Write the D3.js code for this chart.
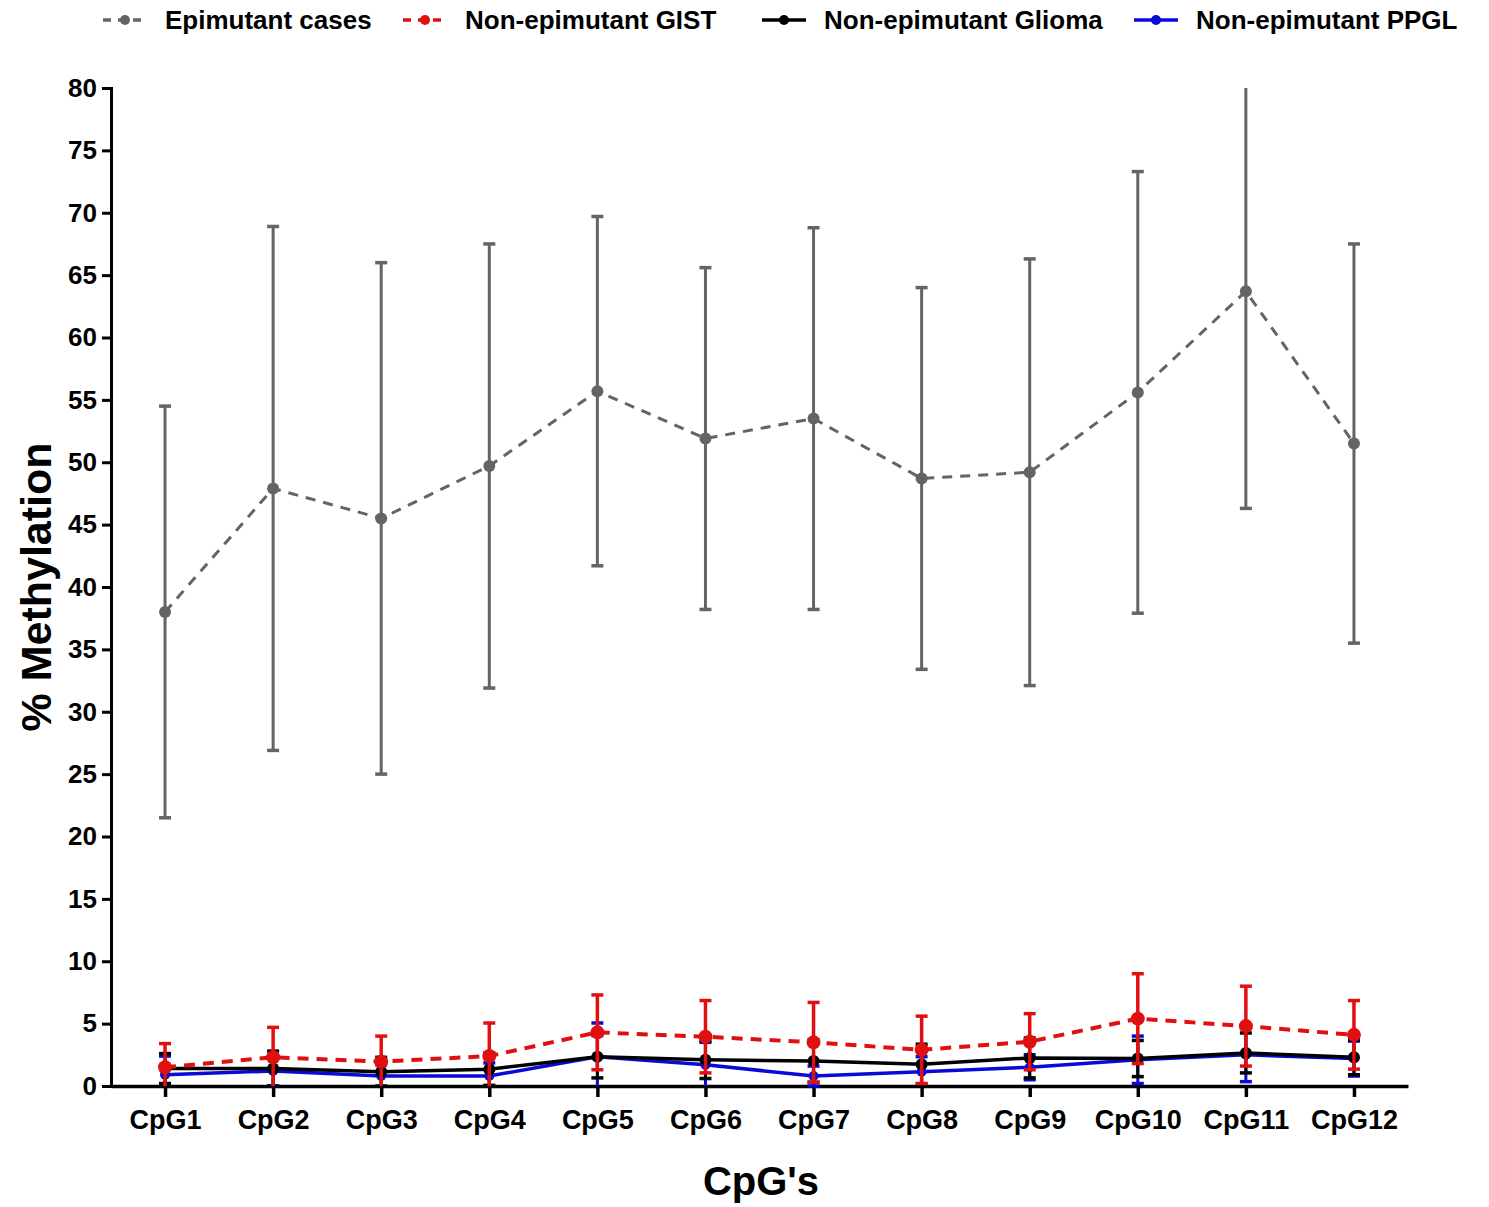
<!DOCTYPE html>
<html>
<head>
<meta charset="utf-8">
<script src="https://cdn.jsdelivr.net/npm/d3@7"></script>
<style>
  body { margin: 0; background: #fff; }
  text { font-family: "Liberation Sans", Arial, sans-serif; font-weight: bold; }
</style>
</head>
<body>
<svg id="chart" width="1489" height="1207"></svg>
<script>
// data (mean and SD, % methylation)
const cpgs = ["CpG1", "CpG2", "CpG3", "CpG4", "CpG5", "CpG6", "CpG7", "CpG8", "CpG9", "CpG10", "CpG11", "CpG12"];
const yTicks = [0, 5, 10, 15, 20, 25, 30, 35, 40, 45, 50, 55, 60, 65, 70, 75, 80];

const epiMean = [38.0, 47.9, 45.5, 49.7, 55.7, 51.9, 53.5, 48.7, 49.2, 55.6, 63.7, 51.5];
const epiSd   = [16.5, 21.0, 20.5, 17.8, 14.0, 13.7, 15.3, 15.3, 17.1, 17.7, 17.4, 16.0];

const gistMean = [1.5, 2.3, 1.95, 2.4, 4.3, 3.95, 3.5, 2.9, 3.55, 5.4, 4.8, 4.1];
const gistSd   = [1.9, 2.4, 2.05, 2.65, 3.0, 2.9, 3.2, 2.7, 2.25, 3.6, 3.2, 2.75];

const gliomaMean = [1.4, 1.4, 1.15, 1.35, 2.35, 2.1, 2.0, 1.75, 2.25, 2.2, 2.65, 2.3];
const gliomaSd   = [1.2, 1.4, 1.15, 1.3, 1.7, 1.5, 1.7, 1.6, 1.6, 1.45, 1.6, 1.4];

const ppglMean = [0.9, 1.2, 0.8, 0.8, 2.35, 1.7, 0.8, 1.15, 1.5, 2.1, 2.5, 2.2];
const ppglSd   = [1.5, 1.2, 0.9, 1.05, 2.7, 1.8, 0.8, 1.2, 1.0, 1.9, 2.15, 1.4];

const svg = d3.select("#chart");

const x = d3.scalePoint().domain(cpgs).range([111, 1408]).padding(0.5);
const y = d3.scaleLinear().domain([0, 80]).range([1086, 88]);
const yc = v => y(Math.max(0, Math.min(80, v)));

const series = [
  { name: "Epimutant cases", mean: epiMean, sd: epiSd, color: "#646464", dash: "10,8", width: 3, r: 6, bar: 3 },
  { name: "Non-epimutant PPGL", mean: ppglMean, sd: ppglSd, color: "#0a0ad8", dash: null, width: 3.5, r: 5, bar: 3 },
  { name: "Non-epimutant Glioma", mean: gliomaMean, sd: gliomaSd, color: "#000", dash: null, width: 3.5, r: 6, bar: 3 },
  { name: "Non-epimutant GIST", mean: gistMean, sd: gistSd, color: "#e01010", dash: "11,8", width: 4, r: 7, bar: 3.5 }
];

// axes
const yAxis = svg.append("g")
  .attr("transform", "translate(111,0)")
  .call(d3.axisLeft(y).tickValues(yTicks).tickSize(9).tickPadding(5));
yAxis.select(".domain").attr("stroke-width", 3);
yAxis.selectAll(".tick line").attr("stroke-width", 3);
yAxis.selectAll("text").attr("font-size", 26).attr("fill", "#000");

const xAxis = svg.append("g")
  .attr("transform", "translate(0,1086)")
  .call(d3.axisBottom(x).tickSizeInner(11).tickSizeOuter(0).tickPadding(13));
xAxis.select(".domain").attr("stroke-width", 3.5);
xAxis.selectAll(".tick line").attr("stroke-width", 3.5);
xAxis.selectAll("text").attr("font-size", 27).attr("fill", "#000");

svg.append("text")
  .attr("transform", "translate(51,587) rotate(-90)")
  .attr("text-anchor", "middle")
  .attr("font-size", 43)
  .text("% Methylation");

svg.append("text")
  .attr("x", 761).attr("y", 1195)
  .attr("text-anchor", "middle")
  .attr("font-size", 40)
  .text("CpG's");

// series
const line = d3.line().x((d, i) => x(cpgs[i])).y(d => y(d));

series.forEach(s => {
  const g = svg.append("g");
  const cap = 6;
  s.mean.forEach((m, i) => {
    const cx = x(cpgs[i]);
    const top = m + s.sd[i], bot = m - s.sd[i];
    g.append("line")
      .attr("x1", cx).attr("x2", cx)
      .attr("y1", yc(top)).attr("y2", yc(bot))
      .attr("stroke", s.color).attr("stroke-width", s.bar);
    if (top <= 80) {
      g.append("line").attr("x1", cx - cap).attr("x2", cx + cap)
        .attr("y1", y(top)).attr("y2", y(top))
        .attr("stroke", s.color).attr("stroke-width", 3.5);
    }
    if (bot >= 0) {
      g.append("line").attr("x1", cx - cap).attr("x2", cx + cap)
        .attr("y1", y(bot)).attr("y2", y(bot))
        .attr("stroke", s.color).attr("stroke-width", 3.5);
    }
  });
  g.append("path")
    .datum(s.mean)
    .attr("d", line)
    .attr("fill", "none")
    .attr("stroke", s.color)
    .attr("stroke-width", s.width)
    .attr("stroke-dasharray", s.dash);
  g.selectAll("circle")
    .data(s.mean)
    .enter().append("circle")
    .attr("cx", (d, i) => x(cpgs[i]))
    .attr("cy", d => y(d))
    .attr("r", s.r)
    .attr("fill", s.color);
});

// legend
const legendItems = [
  { name: "Epimutant cases", color: "#646464", dash: "8,7", x: 103 },
  { name: "Non-epimutant GIST", color: "#e01010", dash: "8,7", x: 403 },
  { name: "Non-epimutant Glioma", color: "#000", dash: null, x: 762 },
  { name: "Non-epimutant PPGL", color: "#0a0ad8", dash: null, x: 1134 }
];
const legend = svg.append("g");
legendItems.forEach(d => {
  legend.append("line")
    .attr("x1", d.x).attr("x2", d.x + 44)
    .attr("y1", 20).attr("y2", 20)
    .attr("stroke", d.color).attr("stroke-width", 3.5)
    .attr("stroke-dasharray", d.dash);
  legend.append("circle")
    .attr("cx", d.x + 22).attr("cy", 20).attr("r", 5)
    .attr("fill", d.color);
  legend.append("text")
    .attr("x", d.x + 62).attr("y", 29)
    .attr("font-size", 26)
    .text(d.name);
});
</script>
</body>
</html>
